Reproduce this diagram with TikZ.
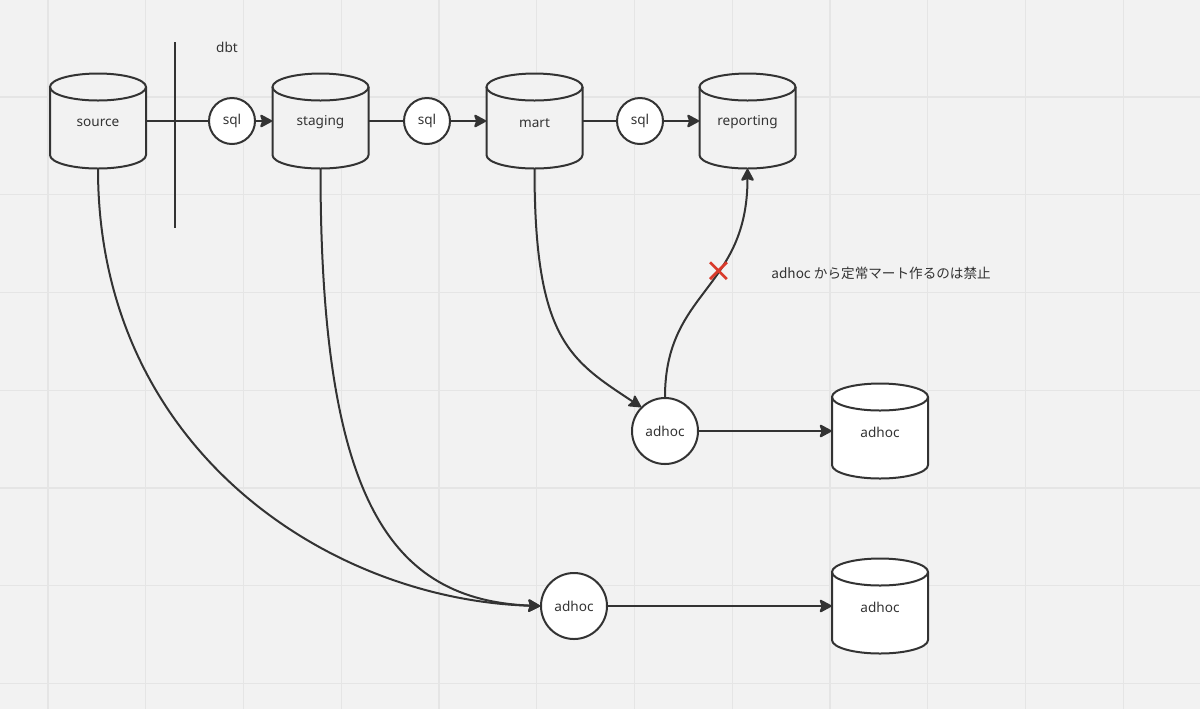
\documentclass[tikz,border=0pt]{standalone}
\usepackage{fontspec}
\setmainfont{Noto Sans}
\newfontfamily\jpfont{Noto Sans CJK JP}
\usetikzlibrary{arrows.meta,shapes.misc}
\definecolor{bgc}{HTML}{F2F2F2}
\definecolor{gridc}{HTML}{E5E5E5}
\definecolor{ink}{HTML}{333333}
\definecolor{xred}{HTML}{D93A2B}
\tikzset{
  lbl/.style={text=ink,font=\fontsize{6.8pt}{8pt}\selectfont,inner sep=0pt},
  cyllbl/.style={lbl,yshift=-0.8pt},
  cylnode/.style={lbl,rectangle,minimum width=48pt,minimum height=47.5pt},
  sqlnode/.style={lbl,circle,draw=ink,fill=white,line width=1pt,minimum size=23pt},
  adhocnode/.style={lbl,circle,draw=ink,fill=white,line width=1pt,minimum size=33pt},
  shapeline/.style={draw=ink,line width=1pt},
  conn/.style={draw=ink,line width=1pt},
  arr/.style={conn,-{Stealth[length=6.8pt,width=7.2pt,inset=1.2pt,round]}},
}
\newcommand\drawcyl[2]{%
  \begin{scope}[shift={(#1.center)}]
    \fill[#2] (-24pt,17pt) -- (-24pt,-17pt) arc[start angle=180,end angle=360,x radius=24pt,y radius=6.75pt]
      -- (24pt,17pt) arc[start angle=0,end angle=180,x radius=24pt,y radius=6.75pt] -- cycle;
    \draw[shapeline] (-24pt,17pt) -- (-24pt,-17pt) arc[start angle=180,end angle=360,x radius=24pt,y radius=6.75pt] -- (24pt,17pt);
    \draw[shapeline] (0pt,17pt) ellipse[x radius=24pt,y radius=6.75pt];
  \end{scope}}
\begin{document}
\begin{tikzpicture}[x=0.5pt,y=-0.5pt]
\useasboundingbox (0,0) rectangle (1200,709);
\fill[bgc] (0,0) rectangle (1200,709);
\foreach \i in {0,...,11} {\draw[gridc,line width=0.6pt] ({48+97.75*\i},0) -- ({48+97.75*\i},709);}
\foreach \j in {1,...,7} {\draw[gridc,line width=0.6pt] (0,{-0.75+97.75*\j}) -- (1200,{-0.75+97.75*\j});}

% cylinders
\node[cylnode] (source) at (98,121) {};
\node[cylnode] (staging) at (320.5,121) {};
\node[cylnode] (mart) at (534.5,121) {};
\node[cylnode] (reporting) at (747.5,121) {};
\node[cylnode] (adhocdb1) at (880,431) {};
\node[cylnode] (adhocdb2) at (880,606) {};
\drawcyl{source}{bgc}
\drawcyl{staging}{bgc}
\drawcyl{mart}{bgc}
\drawcyl{reporting}{bgc}
\drawcyl{adhocdb1}{white}
\drawcyl{adhocdb2}{white}
\node[cyllbl] at (source.center) {source};
\node[cyllbl] at (staging.center) {staging};
\node[cyllbl] at (mart.center) {mart};
\node[cyllbl] at (reporting.center) {reporting};
\node[cyllbl] at (adhocdb1.center) {adhoc};
\node[cyllbl] at (adhocdb2.center) {adhoc};

% separator
\coordinate (sepTop) at (175,42);
\coordinate (sepBot) at (175,228);
\node[lbl] (dbt) at (227,47) {dbt};

% sql and adhoc circles
\node[sqlnode] (sql1) at (232,121) {sql};
\node[sqlnode] (sql2) at (427,121) {sql};
\node[sqlnode] (sql3) at (640,121) {sql};
\node[adhocnode] (adhoc1) at (665,431) {adhoc};
\node[adhocnode] (adhoc2) at (574,606) {adhoc};

% connectors
\draw[conn] (source.east) -- (sql1.west);
\draw[shapeline] (sepTop) -- (sepBot);
\draw[arr] (sql1.east) -- (staging.west);
\draw[conn] (staging.east) -- (sql2.west);
\draw[arr] (sql2.east) -- (mart.west);
\draw[conn] (mart.east) -- (sql3.west);
\draw[arr] (sql3.east) -- (reporting.west);

\draw[arr] (source.south) .. controls (98,450) and (330,600) .. (adhoc2.west);
\draw[arr] (staging.south) .. controls (320.5,500) and (390,600) .. (adhoc2.west);
\draw[arr] (mart.south) .. controls (534.5,340) and (570,360) .. (adhoc1.135);
\draw[arr] (adhoc1.north) .. controls (665,290) and (747.5,290) .. (reporting.south)
  node[pos=0.6,cross out,draw=xred,line width=1.4pt,minimum size=7pt,inner sep=0pt] (forbid) {};
\draw[arr] (adhoc1.east) -- (adhocdb1.west);
\draw[arr] (adhoc2.east) -- (adhocdb2.west);

\node[lbl,anchor=west] (note) at (771,273) {\jpfont adhoc から定常マート作るのは禁止};
\end{tikzpicture}
\end{document}
